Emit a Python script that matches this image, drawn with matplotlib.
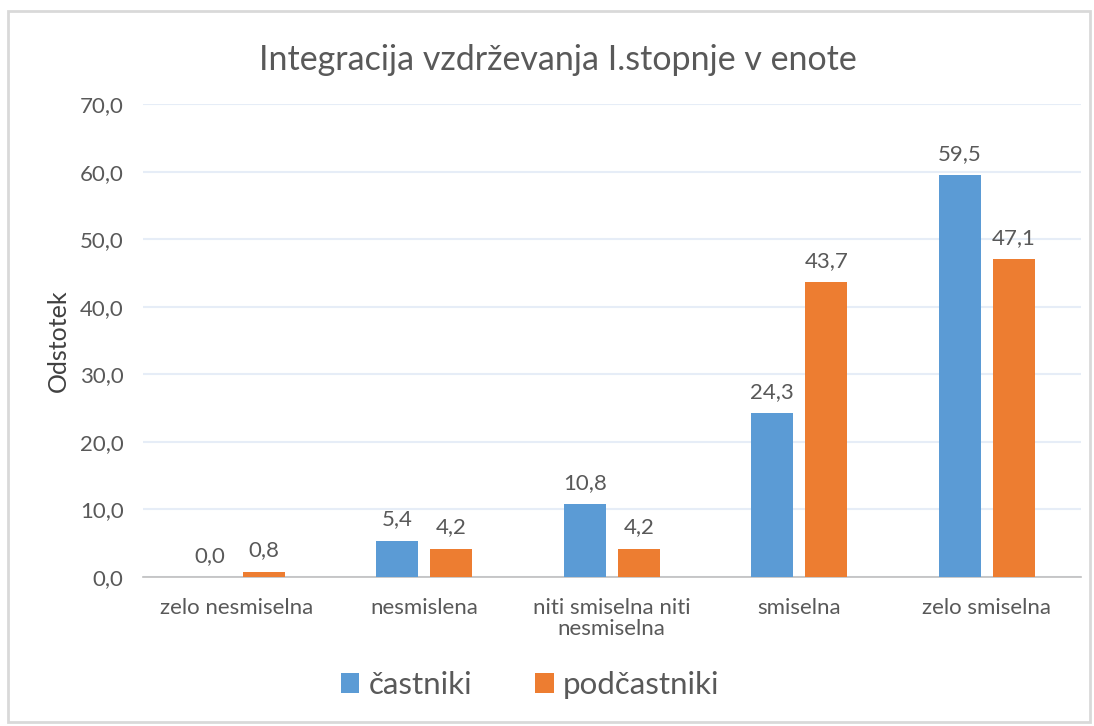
import matplotlib.pyplot as plt
import matplotlib.patches as patches
import numpy as np

# podatki z grafa
kategorije = ['zelo nesmiselna', 'nesmislena', 'niti smiselna niti\nnesmiselna', 'smiselna', 'zelo smiselna']
castniki = [0.0, 5.4, 10.8, 24.3, 59.5]
podcastniki = [0.8, 4.2, 4.2, 43.7, 47.1]
serije = ['častniki', 'podčastniki']
yticks = [0, 10, 20, 30, 40, 50, 60, 70]

plt.rcParams['font.family'] = ['Lato', 'DejaVu Sans']
siva = '#595959'
modra = '#5B9BD5'
oranzna = '#ED7D31'

fig = plt.figure(figsize=(10.94, 7.26), dpi=100)
ax = fig.add_axes([0.1307, 0.2052, 0.857, 0.6515])

# okvir okoli grafa
fig.patches.append(patches.Rectangle((8 / 1094, 4 / 726), 1082 / 1094, 711 / 726,
                                     transform=fig.transFigure, fill=False,
                                     edgecolor='#D9D9D9', linewidth=2))

x = np.arange(len(kategorije))
w = 0.224
off = 0.144
b1 = ax.bar(x - off, castniki, w, color=modra, label=serije[0], zorder=3)
b2 = ax.bar(x + off, podcastniki, w, color=oranzna, label=serije[1], zorder=3)

for bars in (b1, b2):
    for r in bars:
        h = r.get_height()
        ax.annotate(f'{h:.1f}'.replace('.', ','), (r.get_x() + r.get_width() / 2, h),
                    xytext=(0, 8), textcoords='offset points', ha='center', va='bottom',
                    fontsize=16, color=siva)

ax.set_xlim(-0.5, len(kategorije) - 0.5)
ax.set_ylim(0, 70)
ax.set_yticks(yticks)
ax.set_yticklabels([f'{v:.1f}'.replace('.', ',') for v in yticks], fontsize=16, color=siva)
ax.set_xticks(x)
ax.set_xticklabels(kategorije, fontsize=16, color=siva, linespacing=1.05)
ax.tick_params(axis='both', length=0)
ax.tick_params(axis='y', pad=14)
ax.tick_params(axis='x', pad=15)

ax.grid(axis='y', color='#E6EDF7', linewidth=1.5, zorder=0)
for s in ['top', 'right', 'left']:
    ax.spines[s].set_visible(False)
ax.spines['bottom'].set_color('#BFBFBF')
ax.spines['bottom'].set_linewidth(1.2)

ax.set_ylabel('Odstotek', fontsize=18, color='#404040', labelpad=7)
fig.text(0.51, 0.918, 'Integracija vzdrževanja I.stopnje v enote', ha='center', va='center',
         fontsize=24.5, color=siva)

fig.legend(loc='center', bbox_to_anchor=(0.4845, 0.057), ncol=2, frameon=False,
           fontsize=22.5, labelcolor=siva, handlelength=0.6, handleheight=0.6,
           handletextpad=0.3, columnspacing=2.0)

fig.savefig('out.png', dpi=100)
